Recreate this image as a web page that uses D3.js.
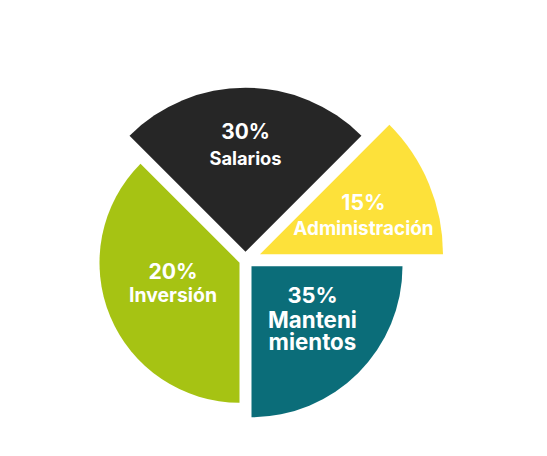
<!DOCTYPE html>
<html>
<head>
<meta charset="utf-8">
<script src="https://cdn.jsdelivr.net/npm/d3@7"></script>
<style>
  html, body { margin: 0; padding: 0; background: #ffffff; }
  svg { display: block; }
  text { font-family: Inter, "Liberation Sans", Arial, sans-serif; font-weight: 700; fill: #ffffff; }
</style>
</head>
<body>
<svg id="chart" width="547" height="456"></svg>
<script>
// ---- data ----
const categories = ["Salarios", "Administración", "Mantenimientos", "Inversión"];
const percents   = [30, 15, 35, 20];
// angular share of each wedge as drawn (degrees of the circle)
const shares     = [90, 45, 90, 135];
// radial length of each wedge as drawn (relative units)
const reach      = [164, 183, 151, 140];
const labelLines = [["Salarios"], ["Administración"], ["Manteni", "mientos"], ["Inversión"]];

// ---- style / layout ----
const colors = ["#262626", "#fde13a", "#0b6d79", "#a6c313"];
const cx = 245.5, cy = 260.2;
const gap = 12;
// label anchor: angle (deg) and distance from each wedge's apex
const labelAngle = [0, 69.6, 125.1, 251.5];
const labelDist  = [106.7, 110.4, 74.5, 70.1];
const pctSize = [20.8, 21.2, 21.8, 21.2];
const nameSize = [18.3, 18.9, 22.3, 19.4];
// baseline offsets of each line below the percent line
const lineOffsets = [[25.7], [25], [24.7, 22], [23]];

const data = categories.map((c, i) => ({ cat: c, pct: percents[i], share: shares[i], r: reach[i], i }));

const svg = d3.select("#chart");
const g = svg.append("g").attr("transform", `translate(${cx},${cy})`);

const rScale = d3.scaleLinear().domain([0, 1]).range([0, 1]);

const pie = d3.pie().sort(null).value(d => d.share)
  .startAngle(-Math.PI / 4).endAngle(2 * Math.PI - Math.PI / 4);
const arcs = pie(data);

const arc = d3.arc().innerRadius(0);

const slices = g.selectAll("g.slice").data(arcs).join("g")
  .attr("class", "slice")
  .attr("transform", d => {
    const mid = (d.startAngle + d.endAngle) / 2;
    const half = (d.endAngle - d.startAngle) / 2;
    const off = (gap / 2) / Math.sin(half);
    return `translate(${off * Math.sin(mid)},${-off * Math.cos(mid)})`;
  });

slices.append("path")
  .attr("d", d => arc.outerRadius(rScale(d.data.r))(d))
  .attr("fill", d => colors[d.data.i]);

slices.each(function(d) {
  const i = d.data.i;
  const a = labelAngle[i] * Math.PI / 180;
  const x = labelDist[i] * Math.sin(a);
  const y = -labelDist[i] * Math.cos(a) - 6;
  const t = d3.select(this).append("text")
    .attr("text-anchor", "middle");
  t.append("tspan")
    .attr("x", x).attr("y", y)
    .attr("font-size", pctSize[i])
    .text(d.data.pct + "%");
  let yy = y;
  labelLines[i].forEach((line, k) => {
    yy += lineOffsets[i][k];
    t.append("tspan")
      .attr("x", x).attr("y", yy)
      .attr("font-size", nameSize[i])
      .text(line);
  });
});
</script>
</body>
</html>
